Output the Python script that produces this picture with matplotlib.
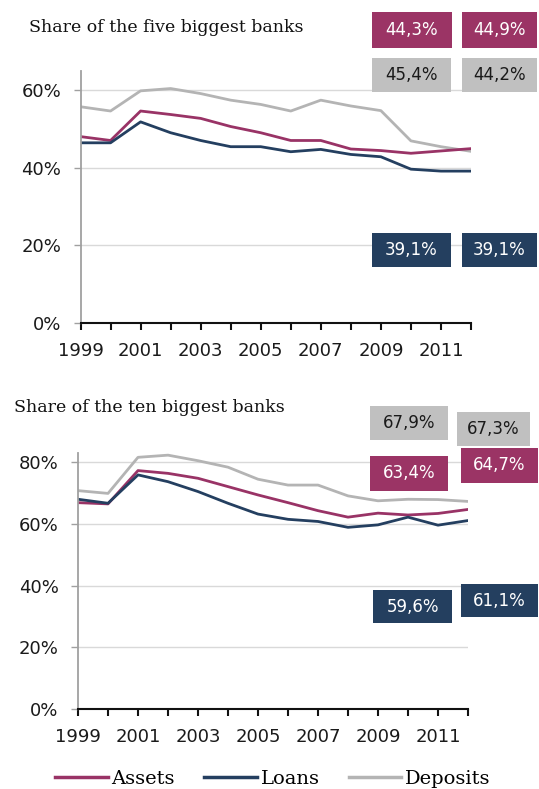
import matplotlib.pyplot as plt
from matplotlib.patches import Rectangle

# data
years = list(range(1999, 2013))
year_labels = [str(y) for y in range(1999, 2012, 2)]

assets_5 = [48.0, 47.0, 54.6, 53.7, 52.7, 50.6, 49.0, 47.0, 47.0, 44.8, 44.4, 43.7, 44.3, 44.9]
loans_5 = [46.4, 46.4, 51.8, 49.0, 47.0, 45.4, 45.4, 44.1, 44.7, 43.4, 42.8, 39.6, 39.1, 39.1]
deposits_5 = [55.7, 54.6, 59.8, 60.4, 59.1, 57.4, 56.3, 54.6, 57.4, 55.9, 54.7, 46.9, 45.4, 44.2]

assets_10 = [66.9, 66.5, 77.3, 76.4, 74.8, 72.1, 69.4, 66.9, 64.3, 62.2, 63.5, 62.9, 63.4, 64.7]
loans_10 = [68.0, 66.7, 75.9, 73.7, 70.5, 66.7, 63.2, 61.5, 60.8, 58.9, 59.7, 62.2, 59.6, 61.1]
deposits_10 = [70.8, 69.9, 81.6, 82.3, 80.5, 78.4, 74.5, 72.6, 72.6, 69.1, 67.5, 68.0, 67.9, 67.3]

c_assets = '#993366'
c_loans = '#243f60'
c_dep = '#b4b4b4'
box_assets = '#9b3465'
box_loans = '#243f5f'
box_dep = '#c0c0c0'

W, H = 539, 789
fig = plt.figure(figsize=(W / 100, H / 100), dpi=100)


def px(x, y):
    # pixel position -> figure fraction
    return x / W, 1 - y / H


def setup(ax, ymax, yticks):
    ax.set_xlim(1999, 2012)
    ax.set_ylim(0, ymax)
    ax.set_xticks(years)
    ax.set_xticklabels([str(y) if y % 2 == 1 else '' for y in years])
    ax.set_yticks(yticks)
    ax.set_yticklabels([f'{t}%' for t in yticks])
    ax.grid(axis='y', color='#d9d9d9', lw=1)
    ax.set_axisbelow(True)
    for s in ['top', 'right']:
        ax.spines[s].set_visible(False)
    ax.spines['left'].set_color('#a0a0a0')
    ax.spines['left'].set_linewidth(1.3)
    ax.spines['bottom'].set_color('#111111')
    ax.spines['bottom'].set_linewidth(1.5)
    ax.tick_params(axis='x', length=5, width=1.5, color='#111111', pad=9,
                   labelsize=13, labelcolor='#1a1a1a')
    ax.tick_params(axis='y', length=5, width=1, color='#a0a0a0', pad=9,
                   labelsize=13, labelcolor='#1a1a1a')
    for lab in ax.get_xticklabels() + ax.get_yticklabels():
        lab.set_fontfamily('DejaVu Sans')


def box(x0, y0, x1, y1, color, text, tcolor):
    fx0, fy1 = px(x0, y0)
    fx1, fy0 = px(x1, y1)
    fig.patches.append(Rectangle((fx0, fy0), fx1 - fx0, fy1 - fy0, transform=fig.transFigure,
                                 facecolor=color, edgecolor='none', zorder=5))
    fig.text((fx0 + fx1) / 2, (fy0 + fy1) / 2, text, ha='center', va='center',
             fontsize=12, color=tcolor, family='DejaVu Sans', zorder=6)


def fmt(v):
    return f'{v:.1f}%'.replace('.', ',')


# top chart: five biggest banks
ax1 = fig.add_axes([80.5 / W, 1 - 322.7 / H, 390.5 / W, 252 / H])
ax1.plot(years, deposits_5, color=c_dep, lw=2)
ax1.plot(years, assets_5, color=c_assets, lw=2)
ax1.plot(years, loans_5, color=c_loans, lw=2)
setup(ax1, 65, [0, 20, 40, 60])

tx, ty = px(29, 28)
fig.text(tx, ty, 'Share of the five biggest banks', fontsize=12.5, family='DejaVu Serif',
         va='center', ha='left', color='#111111')

box(372, 12, 452, 48, box_assets, fmt(assets_5[-2]), 'white')
box(462, 12, 537, 48, box_assets, fmt(assets_5[-1]), 'white')
box(372, 58, 451, 92, box_dep, fmt(deposits_5[-2]), '#1a1a1a')
box(462, 58, 537, 92, box_dep, fmt(deposits_5[-1]), '#1a1a1a')
box(372, 233, 451, 267, box_loans, fmt(loans_5[-2]), 'white')
box(462, 233, 537, 267, box_loans, fmt(loans_5[-1]), 'white')

# bottom chart: ten biggest banks
ax2 = fig.add_axes([78 / W, 1 - 709 / H, 390 / W, 256 / H])
l_dep, = ax2.plot(years, deposits_10, color=c_dep, lw=2, label='Deposits')
l_ass, = ax2.plot(years, assets_10, color=c_assets, lw=2, label='Assets')
l_loa, = ax2.plot(years, loans_10, color=c_loans, lw=2, label='Loans')
setup(ax2, 83, [0, 20, 40, 60, 80])

tx, ty = px(14, 408)
fig.text(tx, ty, 'Share of the ten biggest banks', fontsize=12.5, family='DejaVu Serif',
         va='center', ha='left', color='#111111')

box(370, 406, 448, 440, box_dep, fmt(deposits_10[-2]), '#1a1a1a')
box(457, 412, 530, 446, box_dep, fmt(deposits_10[-1]), '#1a1a1a')
box(370, 456, 448, 491, box_assets, fmt(assets_10[-2]), 'white')
box(461, 448, 538, 483, box_assets, fmt(assets_10[-1]), 'white')
box(373, 590, 452, 623, box_loans, fmt(loans_10[-2]), 'white')
box(461, 584, 538, 617, box_loans, fmt(loans_10[-1]), 'white')

# legend
lx, ly = px(55, 788)
fig.legend([l_ass, l_loa, l_dep], ['Assets', 'Loans', 'Deposits'], loc='lower left',
           bbox_to_anchor=(lx, ly), ncol=3, frameon=False, borderpad=0, borderaxespad=0,
           handlelength=2.7, handletextpad=0.2, columnspacing=1.5,
           prop={'family': 'DejaVu Serif', 'size': 14})
for h in fig.legends[0].legend_handles:
    h.set_linewidth(2.5)

fig.savefig('out.png', dpi=100)
